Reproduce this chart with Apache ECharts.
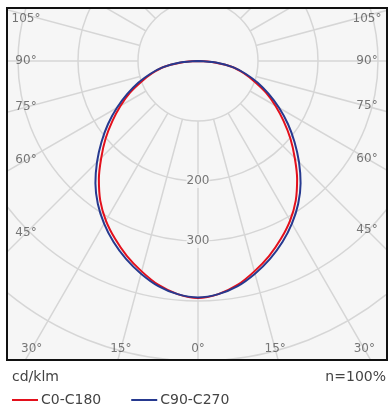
<!DOCTYPE html>
<html>
<head>
<meta charset="utf-8">
<script src="https://cdn.jsdelivr.net/npm/echarts@6/dist/echarts.min.js"></script>
<style>
  body { margin: 0; background: #fff; }
  #frame { position: absolute; left: 6px; top: 7px; border: 2px solid #111; }
  #chart { width: 378px; height: 350px; background: #f6f6f6; }
  #foot { position: absolute; left: 0; top: 362px; width: 389px; height: 46px; }
</style>
</head>
<body>
<div id="frame"><div id="chart"></div></div>
<div id="foot"></div>
<script>
// gamma angles (deg from nadir) and intensities in cd/klm
const gammaAngles = [0, 5, 10, 15, 20, 25, 30, 35, 40, 45, 50, 55, 60, 65, 70, 75, 80, 85, 90]
const c0c180 = [395, 390, 379, 363, 346, 327, 307, 284, 257, 228, 201, 174, 149, 125, 100, 79, 58, 28, 0]
const c90c270 = [394, 390, 381, 367, 351, 333, 313, 291, 266, 238, 210, 183, 156, 130, 106, 82, 59, 30, 0]
const angleLabels = [0, 15, 30, 45, 60, 75, 90, 105]
const radiusLabels = [200, 300]
const seriesNames = ['C0-C180', 'C90-C270']
const unitLabel = 'cd/klm'
const ratioLabel = 'n=100%'

const RED = '#e3101c'
const BLUE = '#26398f'
const GRID = '#d6d6d6'
const FONT = 'DejaVu Sans'
const center = [190, 52]
const pxPerCd = 0.6

// full curve: left half is positive gamma, right half negative
function planeData(values) {
  const pts = []
  for (let i = gammaAngles.length - 1; i > 0; i--) pts.push([values[i], gammaAngles[i]])
  for (let i = 0; i < gammaAngles.length; i++) pts.push([values[i], -gammaAngles[i]])
  return pts
}

// angle labels sit where each spoke meets the inside of the frame
function labelPoint(a) {
  const t = Math.abs(a) * Math.PI / 180
  const side = a < 0 ? 169 : 172
  let dx, dy
  const dySide = Math.sin(t) > 0 ? side * Math.cos(t) / Math.sin(t) : Infinity
  if (dySide > 288) {
    dy = 288
    dx = Math.min(288 * Math.tan(t), side)
  } else {
    dx = side
    dy = Math.max(dySide, -42)
  }
  const ang = Math.atan2(dx, dy) * 180 / Math.PI
  return [Math.hypot(dx, dy) / pxPerCd, a < 0 ? -ang : ang]
}

const labelData = []
angleLabels.forEach(a => {
  labelData.push({ value: labelPoint(a), name: a + '°' })
  if (a > 0) labelData.push({ value: labelPoint(-a), name: a + '°' })
})

const chart = echarts.init(document.getElementById('chart'))
chart.setOption({
  animation: false,
  polar: [
    { center: center, radius: [60, 360] },
    { center: center, radius: [0, 360] }
  ],
  angleAxis: [
    {
      polarIndex: 0, type: 'value', min: 0, max: 360, interval: 15, startAngle: 270,
      axisLine: { show: false }, axisTick: { show: false }, axisLabel: { show: false },
      splitLine: { show: true, lineStyle: { color: GRID, width: 1.5 } }
    },
    { polarIndex: 1, type: 'value', min: -180, max: 180, startAngle: 90, clockwise: true, show: false }
  ],
  radiusAxis: [
    {
      polarIndex: 0, type: 'value', min: 100, max: 600, interval: 100,
      axisLine: { show: false }, axisTick: { show: false }, axisLabel: { show: false },
      splitLine: { show: true, lineStyle: { color: GRID, width: 1.5 } }
    },
    { polarIndex: 1, type: 'value', min: 0, max: 600, show: false }
  ],
  series: [
    {
      type: 'scatter', coordinateSystem: 'polar', polarIndex: 1, symbolSize: 1,
      itemStyle: { color: 'transparent' }, silent: true,
      data: radiusLabels.map(v => ({ value: [v, 0], name: String(v) })),
      label: {
        show: true, position: 'inside', formatter: '{b}', color: '#555', fontSize: 12,
        fontFamily: FONT, backgroundColor: '#f6f6f6', padding: [1, 0]
      }
    },
    {
      type: 'scatter', coordinateSystem: 'polar', polarIndex: 1, symbolSize: 1,
      itemStyle: { color: 'transparent' }, silent: true,
      data: labelData,
      label: { show: true, position: 'inside', formatter: '{b}', color: '#555', fontSize: 12, fontFamily: FONT }
    },
    {
      name: seriesNames[0], type: 'line', coordinateSystem: 'polar', polarIndex: 1,
      smooth: 0.35, symbol: 'none', lineStyle: { color: RED, width: 2 },
      data: planeData(c0c180)
    },
    {
      name: seriesNames[1], type: 'line', coordinateSystem: 'polar', polarIndex: 1,
      smooth: 0.35, symbol: 'none', lineStyle: { color: BLUE, width: 2 },
      data: planeData(c90c270)
    }
  ]
})

const foot = echarts.init(document.getElementById('foot'))
foot.setOption({
  animation: false,
  title: [
    { text: unitLabel, left: 12, top: 8, padding: 0, textStyle: { fontSize: 14, fontWeight: 'normal', color: '#444', fontFamily: FONT } },
    { text: ratioLabel, right: 3, top: 8, padding: 0, textStyle: { fontSize: 14, fontWeight: 'normal', color: '#444', fontFamily: FONT } }
  ],
  legend: {
    left: 12, top: 31, padding: 0, icon: 'rect', itemWidth: 26, itemHeight: 2, itemGap: 30,
    data: seriesNames,
    textStyle: { fontSize: 14, color: '#444', fontFamily: FONT, padding: [0, 0, 0, -2] }
  },
  grid: { left: 0, right: 0, top: 0, bottom: 0 },
  xAxis: { type: 'value', show: false },
  yAxis: { type: 'value', show: false },
  series: [
    { name: seriesNames[0], type: 'line', symbol: 'none', color: RED, lineStyle: { width: 2 }, data: [] },
    { name: seriesNames[1], type: 'line', symbol: 'none', color: BLUE, lineStyle: { width: 2 }, data: [] }
  ]
})
</script>
</body>
</html>
